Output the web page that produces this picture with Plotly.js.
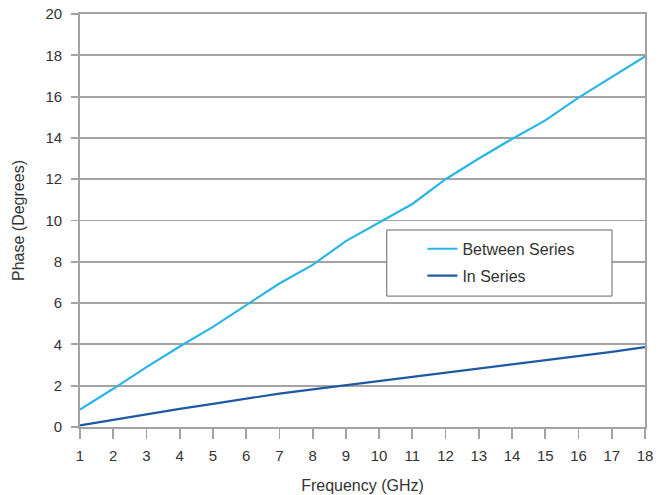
<!DOCTYPE html>
<html>
<head>
<meta charset="utf-8">
<script src="https://cdn.plot.ly/plotly-3.0.1.min.js"></script>
<style>html,body{margin:0;padding:0;background:#fff;}#chart{width:660px;height:495px;}</style>
</head>
<body>
<div id="chart"></div>
<script>
const frequency = [1,2,3,4,5,6,7,8,9,10,11,12,13,14,15,16,17,18];
const betweenSeries = [0.85,1.85,2.9,3.9,4.85,5.9,6.95,7.85,9.0,9.9,10.8,12.0,13.0,13.95,14.85,15.95,16.95,17.95];
const inSeries = [0.08,0.35,0.62,0.88,1.12,1.38,1.62,1.82,2.02,2.22,2.42,2.62,2.82,3.02,3.22,3.42,3.64,3.87];
const seriesNames = ["Between Series", "In Series"];
const xTicks = frequency;
const yTicks = [0,2,4,6,8,10,12,14,16,18,20];

const gridColor = "#a3a3a3";
const fam = "'Liberation Sans', Arial, sans-serif";
const font = {family: fam, size: 15, color: "#333"};

const traces = [
  {x: frequency, y: betweenSeries, name: seriesNames[0], legendgroup: "a", mode: "lines", line: {color: "#2bb5e6", width: 2.2}},
  {x: frequency, y: inSeries, name: seriesNames[1], legendgroup: "b", mode: "lines", line: {color: "#1f58a3", width: 2.2}}
];

const layout = {
  width: 660, height: 495,
  margin: {l: 80, r: 15, t: 14, b: 68},
  paper_bgcolor: "#fff", plot_bgcolor: "#fff",
  font: font,
  showlegend: true,
  legend: {
    x: 0.606, y: 0.4725, xanchor: "left", yanchor: "top",
    bgcolor: "rgba(0,0,0,0)", borderwidth: 0,
    font: {family: fam, size: 16, color: "#333"},
    tracegroupgap: 3
  },
  shapes: [{
    type: "rect", xref: "paper", yref: "paper",
    x0: 0.543, x1: 0.9416, y0: 0.317, y1: 0.477,
    fillcolor: "#fff", line: {color: "#666", width: 1}, layer: "above"
  }],
  xaxis: {
    range: [1, 18], tickvals: xTicks, ticktext: xTicks.map(String),
    showgrid: false, zeroline: false,
    showline: true, linecolor: gridColor, linewidth: 1.8, mirror: true,
    ticks: "outside", ticklen: 10, tickwidth: 1.8, tickcolor: gridColor,
    ticklabelstandoff: 4,
    title: {text: "Frequency (GHz)", font: {size: 16, color: "#333"}, standoff: 17}
  },
  yaxis: {
    range: [0, 20], tickvals: yTicks, ticktext: yTicks.map(String),
    showgrid: true, gridcolor: gridColor, gridwidth: 1.8, zeroline: false,
    showline: true, linecolor: gridColor, linewidth: 1.8, mirror: true,
    ticks: "outside", ticklen: 7, tickwidth: 1.8, tickcolor: gridColor,
    ticklabelstandoff: 6,
    title: {text: "Phase (Degrees)", font: {size: 16, color: "#333"}, standoff: 17}
  }
};

Plotly.newPlot("chart", traces, layout, {displayModeBar: false, staticPlot: true});
</script>
</body>
</html>
